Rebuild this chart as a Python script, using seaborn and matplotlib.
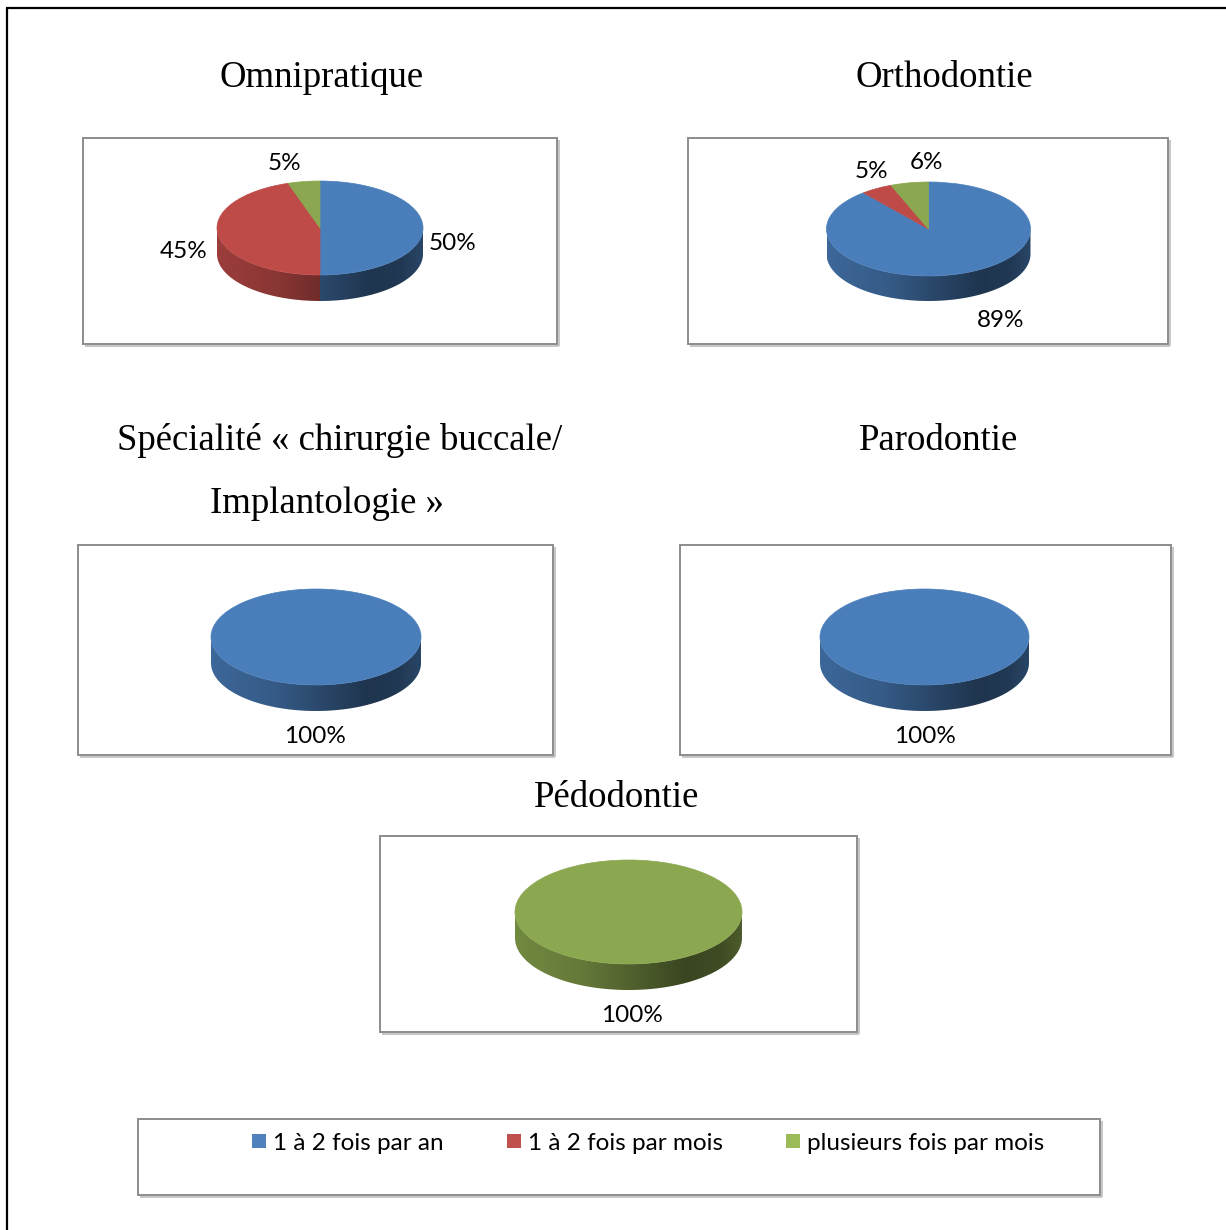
import numpy as np
import matplotlib
matplotlib.use("Agg")
import matplotlib.pyplot as plt
import seaborn as sns
from matplotlib.patches import Rectangle, Polygon
from matplotlib.lines import Line2D
from matplotlib.colors import to_rgb

# ---- data -------------------------------------------------------------
categories = ["1 à 2 fois par an", "1 à 2 fois par mois", "plusieurs fois par mois"]
omnipratique = [50, 45, 5]
orthodontie = [89, 5, 6]
chirurgie = [100, 0, 0]
parodontie = [100, 0, 0]
pedodontie = [0, 0, 100]

# ---- style ------------------------------------------------------------
sns.set_style("white")
plt.rcParams["font.family"] = ["Lato", "DejaVu Sans"]
SERIF = ["Liberation Serif", "DejaVu Serif"]

top_colors = ["#4A7EBB", "#BE4B48", "#8BA74F"]
key_colors = ["#4F81BD", "#C0504D", "#9BBB59"]

# horizontal light profile of the cylinder wall (0 = left, 1 = right)
u_pts = [0.0, 0.3, 0.55, 0.75, 0.9, 1.0]
f_pts = [0.82, 0.72, 0.55, 0.42, 0.45, 0.55]

W, H = 1226, 1230
fig = plt.figure(figsize=(W / 100, H / 100), dpi=100)


def fx(x):
    return x / W


def fy(y):
    return 1 - y / H


def fig_line(x0, y0, x1, y1, color, lw):
    fig.add_artist(Line2D([fx(x0), fx(x1)], [fy(y0), fy(y1)],
                          transform=fig.transFigure, color=color, lw=lw,
                          solid_capstyle="butt"))


def box(x0, y0, x1, y1):
    # soft shadow on the right and bottom, then the frame itself
    fig_line(x1 + 2, y0 + 2, x1 + 2, y1 + 2, "#c6c6c6", 1.4)
    fig_line(x0 + 2, y1 + 2, x1 + 2, y1 + 2, "#c6c6c6", 1.4)
    fig.add_artist(Rectangle((fx(x0), fy(y1)), (x1 - x0) / W, (y1 - y0) / H,
                             transform=fig.transFigure, fill=False,
                             ec="#8c8c8c", lw=1.4))


def pie3d(values, cx, cy, a, b, d):
    """Tilted pie: flat top from ax.pie, shaded wall below the front rim."""
    ax = fig.add_axes([fx(cx - a), fy(cy + b + d), 2 * a / W, (2 * b + d) / H])
    dd = d / b
    wedges, _ = ax.pie(values, colors=top_colors, startangle=90,
                       counterclock=False, radius=1, center=(0, 0),
                       wedgeprops=dict(linewidth=0))
    u = np.linspace(0, 1, 256)
    f = np.interp(u, u_pts, f_pts)
    for w, col, v in zip(wedges, top_colors, values):
        if v <= 0:
            w.set_visible(False)
            continue
        w.set_zorder(3)
        w.set_edgecolor(col)
        w.set_linewidth(0.5)
        rgb = np.array(to_rgb(col))
        img = np.clip(f[None, :, None] * rgb[None, None, :], 0, 1)
        img = np.repeat(img, 2, axis=0)
        t1, t2 = w.theta1, w.theta2
        for k in (-1, 0, 1):
            lo = max(t1, 180 + 360 * k)
            hi = min(t2, 360 + 360 * k)
            if hi <= lo:
                continue
            t = np.radians(np.linspace(lo, hi, 120))
            xs, ys = np.cos(t), np.sin(t)
            verts = np.concatenate([np.column_stack([xs, ys]),
                                    np.column_stack([xs[::-1], ys[::-1] - dd])])
            poly = Polygon(verts, closed=True, fc="none", ec="none")
            ax.add_patch(poly)
            im = ax.imshow(img, extent=(-1, 1, -1 - dd, 1), aspect="auto",
                           zorder=1, interpolation="bilinear")
            im.set_clip_path(poly)
    ax.set_aspect("auto")
    ax.set_xlim(-1, 1)
    ax.set_ylim(-1 - dd, 1)
    ax.axis("off")
    return ax


def pct_labels(values, positions):
    shown = [v for v in values if v > 0]
    for v, (x, y) in zip(shown, positions):
        fig.text(fx(x), fy(y), f"{v}%", ha="center", va="baseline",
                 fontsize=17.5, color="black")


def title(text, x, y):
    fig.text(fx(x), fy(y), text, ha="center", va="baseline",
             fontsize=26.5, family=SERIF, color="black")


# ---- page frame -------------------------------------------------------
fig_line(6, 8, W, 8, "black", 1.6)
fig_line(7, 8, 7, H, "black", 1.6)

# ---- Omnipratique ------------------------------------------------------
title("Omnipratique", 321.5, 87)
box(83, 138, 557, 344)
pie3d(omnipratique, 320, 228, 103, 47, 26)
pct_labels(omnipratique, [(452.5, 250), (184, 258), (284, 170)])

# ---- Orthodontie -------------------------------------------------------
title("Orthodontie", 944.5, 87)
box(688, 138, 1168, 344)
pie3d(orthodontie, 928.5, 229, 102, 47, 25)
pct_labels(orthodontie, [(1001, 327), (871.5, 178), (926.5, 169)])

# ---- Chirurgie buccale / Implantologie ----------------------------------
title("Spécialité « chirurgie buccale/", 340, 450)
title("Implantologie »", 327, 513)
box(78, 545, 553, 755)
pie3d(chirurgie, 316, 637, 105, 48, 26)
pct_labels(chirurgie, [(314.5, 743)])

# ---- Parodontie --------------------------------------------------------
title("Parodontie", 939, 450)
box(680, 545, 1171, 755)
pie3d(parodontie, 924.5, 637, 104.5, 48, 26)
pct_labels(parodontie, [(924.5, 743)])

# ---- Pédodontie --------------------------------------------------------
title("Pédodontie", 617, 807)
box(380, 836, 857, 1032)
pie3d(pedodontie, 628.5, 912, 113.5, 52, 26)
pct_labels(pedodontie, [(631.5, 1022)])

# ---- shared legend -----------------------------------------------------
box(138, 1119, 1100, 1195)
key_x = [252, 507, 786]
for kx, col, name in zip(key_x, key_colors, categories):
    fig.add_artist(Rectangle((fx(kx), fy(1148)), 14 / W, 14 / H,
                             transform=fig.transFigure, fc=col, ec="none"))
    fig.text(fx(kx + 21), fy(1150), name, ha="left", va="baseline",
             fontsize=17.5, color="black")

fig.savefig("out.png", dpi=100, facecolor="white")
